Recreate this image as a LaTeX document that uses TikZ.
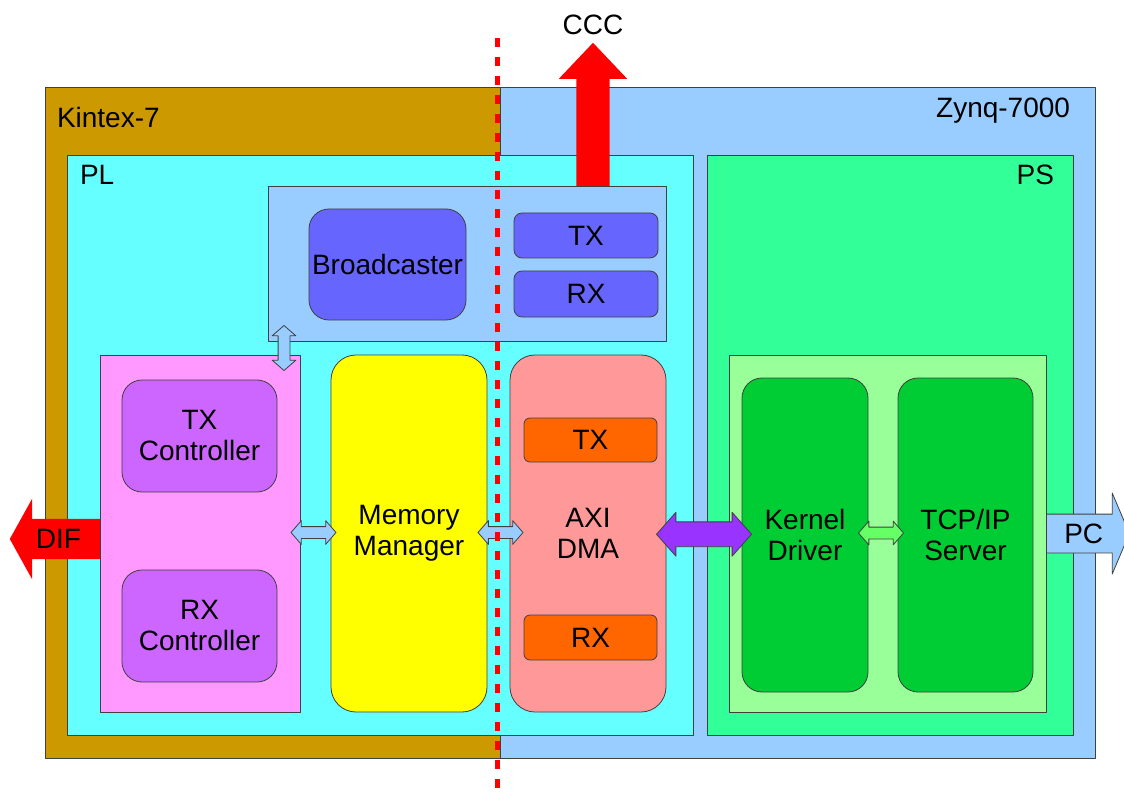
\documentclass[tikz,border=0pt]{standalone}
\usepackage{fontspec}
\setmainfont{Liberation Sans}
\usepackage{tikz}
\usetikzlibrary{calc, shapes.arrows}

\definecolor{kintexcol}{HTML}{CC9900}
\definecolor{zynqcol}{HTML}{99CCFF}
\definecolor{plcol}{HTML}{66FFFF}
\definecolor{pscol}{HTML}{33FF99}
\definecolor{bcastcol}{HTML}{6666FF}
\definecolor{ctrlcol}{HTML}{FF99FF}
\definecolor{txrxcol}{HTML}{CC66FF}
\definecolor{memcol}{HTML}{FFFF00}
\definecolor{dmacol}{HTML}{FF9999}
\definecolor{dmaportcol}{HTML}{FF6600}
\definecolor{drvgrpcol}{HTML}{99FF99}
\definecolor{drvcol}{HTML}{00CC33}
\definecolor{buscol}{HTML}{9933FF}
\definecolor{linkcol}{HTML}{66FF66}
\definecolor{edgecol}{HTML}{404040}

\begin{document}
\begin{tikzpicture}[x=1pt, y=-1pt, font=\fontsize{28}{31}\selectfont, line join=round,
    box/.style={draw=edgecol, line width=0.8pt, inner sep=0pt, outer sep=0pt},
    block/.style={box, rounded corners=20pt, align=center},
    port/.style={box, rounded corners=8pt},
    lbl/.style={inner sep=0pt, outer sep=0pt},
    dblarr/.style={double arrow, draw=edgecol, line width=0.8pt, inner xsep=0pt, inner ysep=5.5pt,
        minimum height=45pt, minimum width=23pt,
        double arrow head extend=6pt, double arrow tip angle=98},
    bigarr/.style={single arrow, inner xsep=0pt, inner ysep=20pt, minimum width=80pt,
        single arrow head extend=20pt}]

    \useasboundingbox (0,0) rectangle (1124,794);

    % ==========================================
    % CHIPS AND PL / PS AREAS
    % ==========================================

    \node[box, fill=kintexcol, minimum width=455pt, minimum height=671pt] (kintex) at (272.5,422.5) {};
    \node[box, fill=zynqcol, minimum width=595pt, minimum height=671pt] (zynq) at (797.5,422.5) {};

    \node[box, fill=plcol, minimum width=626pt, minimum height=580pt] (pl) at (380,445) {};
    \node[box, fill=pscol, minimum width=366pt, minimum height=580pt] (ps) at (890,445) {};

    % ==========================================
    % BROADCASTER GROUP
    % ==========================================

    \node[box, fill=zynqcol, minimum width=398pt, minimum height=155pt] (bcgrp) at (467,263.5) {};
    \node[block, fill=bcastcol, minimum width=157pt, minimum height=111pt] (bcast) at (387.5,264.5) {Broadcaster};
    \node[port, fill=bcastcol, minimum width=144pt, minimum height=45pt] (bctx) at (586,235.5) {TX};
    \node[port, fill=bcastcol, minimum width=144pt, minimum height=46pt] (bcrx) at (586,294) {RX};

    % ==========================================
    % CONTROLLERS, MEMORY MANAGER, AXI DMA
    % ==========================================

    \node[box, fill=ctrlcol, minimum width=200pt, minimum height=357pt] (ctrl) at (200,533.5) {};
    \node[block, fill=txrxcol, minimum width=155pt, minimum height=112pt] (txctrl) at (199.5,436) {TX\\Controller};
    \node[block, fill=txrxcol, minimum width=155pt, minimum height=112pt] (rxctrl) at (199.5,626) {RX\\Controller};

    \node[block, rounded corners=25pt, fill=memcol, minimum width=156pt, minimum height=357pt] (memmgr) at (409,533.5) {Memory\\Manager};

    \node[block, rounded corners=25pt, fill=dmacol, minimum width=156pt, minimum height=357pt] (axidma) at (588,533.5) {AXI\\DMA};
    \node[port, rounded corners=6pt, fill=dmaportcol, minimum width=133pt, minimum height=44pt] (dmatx) at (590.5,440) {TX};
    \node[port, rounded corners=6pt, fill=dmaportcol, minimum width=133pt, minimum height=45pt] (dmarx) at (590.5,637.5) {RX};

    % ==========================================
    % PS SOFTWARE
    % ==========================================

    \node[box, fill=drvgrpcol, minimum width=317pt, minimum height=357pt] (drvgrp) at (887.5,533.5) {};
    \node[block, fill=drvcol, minimum width=126pt, minimum height=314pt] (kdrv) at (805,535) {Kernel\\Driver};
    \node[block, fill=drvcol, minimum width=135pt, minimum height=314pt] (tcpsrv) at (965.5,535) {TCP/IP\\Server};

    % ==========================================
    % ARROWS
    % ==========================================

    % double arrows between blocks (rotated ones take the shaft from inner xsep)
    \node[dblarr, fill=zynqcol, shape border rotate=90, inner xsep=5.5pt, inner ysep=0pt] (a1) at ($(ctrl.north east)!0.5!(bcgrp.south west)$) {};
    \node[dblarr, fill=zynqcol] (a2) at ($(ctrl.east)!0.5!(memmgr.west)+(-2,-1)$) {};
    \node[dblarr, fill=zynqcol] (a3) at ($(memmgr.east)!0.5!(axidma.west)+(2,-1)$) {};
    \node[dblarr, fill=buscol, inner ysep=12pt, minimum height=95pt, minimum width=43pt,
          double arrow head extend=9.5pt, double arrow tip angle=97] (a4) at ($(axidma.east)!0.5!(kdrv.west)$) {};
    \node[dblarr, fill=linkcol] (a5) at ($(kdrv.east)!0.5!(tcpsrv.west)+(-2,-2)$) {};

    % outgoing arrows
    \node[bigarr, fill=red, shape border rotate=90, inner xsep=16.5pt, inner ysep=0pt, minimum height=143pt, minimum width=68pt,
          single arrow head extend=17.5pt, single arrow tip angle=87, anchor=tail] (ccc) at ($(bcgrp.north)+(126,0)$) {};
    \node[lbl, anchor=south] at ($(ccc.tip)+(0,-8)$) {CCC};

    \node[bigarr, fill=red, shape border rotate=180, minimum height=90pt,
          single arrow tip angle=122, anchor=tail] (dif) at ($(ctrl.west)+(0,5.5)$) {};
    \node[lbl] at ($(dif.tail)!0.46!(dif.tip)$) {DIF};

    \node[bigarr, fill=zynqcol, draw=edgecol, line width=0.8pt, inner ysep=19pt, single arrow head extend=21pt,
          minimum height=83pt, single arrow tip angle=134, anchor=tail] (pc) at (drvgrp.east) {};
    \node[lbl] at ($(pc.tail)!0.45!(pc.tip)$) {PC};

    % ==========================================
    % LABELS AND SPLIT LINE
    % ==========================================

    \node[lbl, anchor=base west] at (57,128) {Kintex-7};
    \node[lbl, anchor=base east] at (1070,118) {Zynq-7000};
    \node[lbl, anchor=base west] at (80,185) {PL};
    \node[lbl, anchor=base east] at (1054,185) {PS};

    \draw[red, line width=5pt, dash pattern=on 9pt off 10pt] (497,38) -- (497,794);

\end{tikzpicture}
\end{document}
